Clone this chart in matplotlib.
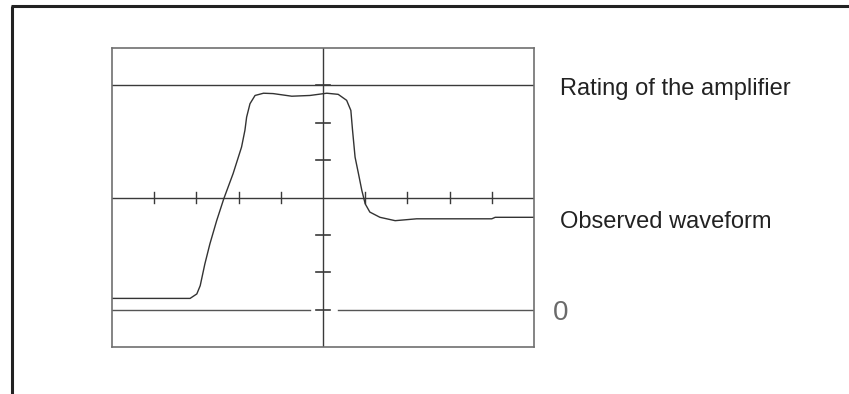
import matplotlib
matplotlib.use("Agg")
import matplotlib.pyplot as plt
from matplotlib.lines import Line2D

# --- data ---
wave_x = [-5.0, -3.15, -2.99, -2.91, -2.80, -2.68, -2.52, -2.35, -2.13, -1.93, -1.85, -1.81,
          -1.73, -1.61, -1.41, -1.18, -0.74, -0.31, 0.09, 0.36, 0.56, 0.66, 0.70, 0.76, 0.84,
          0.92, 1.00, 1.11, 1.35, 1.71, 2.22, 4.00, 4.08, 5.0]
wave_y = [0.30, 0.30, 0.42, 0.64, 1.22, 1.76, 2.38, 2.97, 3.64, 4.35, 4.80, 5.15,
          5.51, 5.73, 5.79, 5.78, 5.71, 5.73, 5.79, 5.76, 5.60, 5.33, 4.80, 4.08, 3.64,
          3.19, 2.83, 2.61, 2.47, 2.38, 2.43, 2.43, 2.47, 2.47]
zero_level = 0
rating_level = 6
center_level = 3
x_ticks = [-4, -3, -2, -1, 1, 2, 3, 4]
y_ticks = [0, 1, 2, 4, 5, 6]
labels = ["Rating of the amplifier", "Observed waveform", "0"]

W, H = 849, 394
fig = plt.figure(figsize=(W / 100, H / 100), dpi=100)

# outer frame (top and left edges visible)
fig.add_artist(Line2D([12 / W, 12 / W], [0, 1 - 6 / H], color="#222222", lw=2.2,
                      transform=fig.transFigure, solid_capstyle="butt"))
fig.add_artist(Line2D([11 / W, 1], [1 - 6 / H, 1 - 6 / H], color="#222222", lw=2.2,
                      transform=fig.transFigure, solid_capstyle="butt"))

ax = fig.add_axes([112 / W, 1 - 347 / H, 422 / W, 299 / H])
ax.set_xlim(-5, 5)
ax.set_ylim(-1, 7)
ax.set_xticks([])
ax.set_yticks([])
for s in ax.spines.values():
    s.set_color("#707070")
    s.set_linewidth(1.2)

lc = "#3a3a3a"
# rating line
ax.plot([-5, 5], [rating_level, rating_level], color=lc, lw=1.0)
# center horizontal axis
ax.plot([-5, 5], [center_level, center_level], color=lc, lw=1.0)
# vertical center axis
ax.plot([0, 0], [-1, 7], color=lc, lw=1.0)
# zero line with gap around center
ax.plot([-5, -0.31], [zero_level, zero_level], color="#555555", lw=1.0)
ax.plot([0.36, 5], [zero_level, zero_level], color="#555555", lw=1.0)
# ticks
for t in x_ticks:
    ax.plot([t, t], [center_level - 0.16, center_level + 0.16], color=lc, lw=1.0)
for t in y_ticks:
    ax.plot([-0.16, 0.16], [t, t], color=lc, lw=1.2)

# waveform
ax.plot(wave_x, wave_y, color="#333333", lw=1.0)

# labels
ax.text(5.62, 5.75, labels[0], fontsize=17, family="Liberation Sans",
        va="baseline", ha="left", color="#222222", clip_on=False)
ax.text(5.62, 2.18, labels[1], fontsize=17, family="Liberation Sans",
        va="baseline", ha="left", color="#222222", clip_on=False)
ax.text(5.44, -0.27, labels[2], fontsize=20, family="Liberation Sans",
        va="baseline", ha="left", color="#6a6a6a", clip_on=False)

fig.savefig("out.png", dpi=100)
